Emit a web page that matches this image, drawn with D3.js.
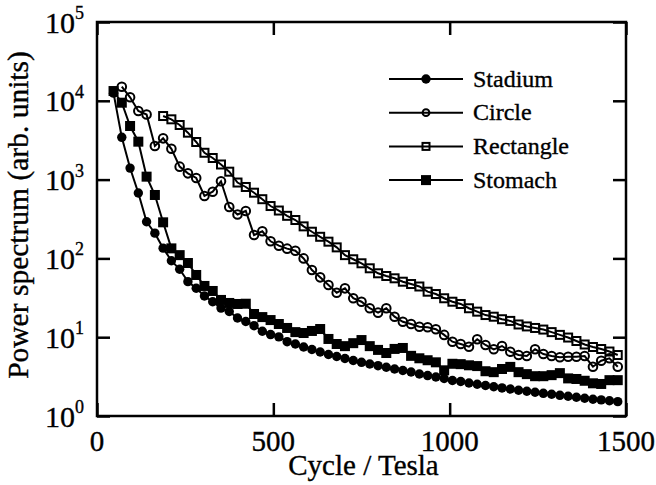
<!DOCTYPE html>
<html>
<head>
<meta charset="utf-8">
<script src="https://cdn.jsdelivr.net/npm/d3@7"></script>
<style>
  html, body { margin: 0; padding: 0; background: #fff; }
  svg { display: block; }
  text { font-family: "Liberation Serif", "Times New Roman", Times, serif; fill: #000; stroke: #000; stroke-width: 0.35px; }
</style>
</head>
<body>
<svg id="chart" width="656" height="485"></svg>
<script>
// Frequency axis (cycles per tesla) of the FFT bins
const cycles = [46.9, 70.3, 93.8, 117.2, 140.6, 164.1, 187.5, 210.9, 234.4, 257.8,
  281.3, 304.7, 328.1, 351.6, 375, 398.4, 421.9, 445.3, 468.8, 492.2,
  515.6, 539.1, 562.5, 585.9, 609.4, 632.8, 656.3, 679.7, 703.1, 726.6,
  750, 773.4, 796.9, 820.3, 843.8, 867.2, 890.6, 914.1, 937.5, 960.9,
  984.4, 1007.8, 1031.3, 1054.7, 1078.1, 1101.6, 1125, 1148.4, 1171.9, 1195.3,
  1218.8, 1242.2, 1265.6, 1289.1, 1312.5, 1335.9, 1359.4, 1382.8, 1406.3, 1429.7,
  1453.1, 1476.6];

const stadium = [12500, 3440, 1400, 676, 292, 209, 135, 93.5, 72.8, 50.7,
  41.8, 33.3, 28.2, 23.4, 21.2, 17.5, 15.8, 14.0, 11.9, 10.8,
  10.1, 8.77, 8.2, 7.5, 6.98, 6.49, 6.03, 5.69, 5.37, 5.06,
  4.80, 4.57, 4.35, 4.15, 3.95, 3.78, 3.62, 3.41, 3.26, 3.13,
  2.99, 2.82, 2.74, 2.62, 2.53, 2.44, 2.35, 2.27, 2.20, 2.12,
  2.06, 2.0, 1.94, 1.89, 1.83, 1.78, 1.73, 1.68, 1.63, 1.60,
  1.56, 1.52];

const circle = [null, 15100, 11070, 7430, 6700, 2670, 3340, 2460, 1460, 1200,
  1048, 620, 702, 951, 449, 361, 400, 198, 221, 165,
  145, 133, 125, 100, 71.3, 57.5, 46, 36.7, 41.7, 31.2,
  28.2, 23.3, 20.5, 23.3, 18.2, 15.7, 14.7, 13.6, 13.4, 12.6,
  10.7, 8.77, 8.2, 7.57, 9.4, 7.96, 7.02, 7.73, 6.55, 5.94,
  5.77, 7.02, 6.12, 5.77, 5.56, 5.66, 5.66, 5.77, 4.22, 5.03,
  5.4, 4.22];

const rectangle = [null, null, null, null, null, null, 6410, 5820, 4930, 3940,
  3000, 2190, 1880, 1555, 1260, 918, 806, 682, 564, 462,
  405, 347, 307, 255, 218, 188, 163, 138, 110, 97.5,
  86.7, 74.9, 64.7, 59.8, 55.9, 50.6, 47.3, 44, 37.8, 35.3,
  31.2, 28.2, 26.4, 23.3, 21.1, 19.1, 18.2, 16.9, 16.1, 14.5,
  13.7, 13.1, 12.5, 11.6, 10.7, 9.9, 8.95, 8.08, 7.51, 7.08,
  6.58, 5.94];

const stomach = [13300, 9460, 4790, 3030, 1090, 638, 287, 134, 110, 87.4,
  61.6, 44.7, 38.6, 29.7, 27.2, 26.4, 26.6, 19.7, 18.0, 16.5,
  14.7, 13.1, 11.6, 11.3, 12.0, 12.7, 9.5, 8.2, 7.7, 8.4,
  9.2, 7.7, 6.9, 6.3, 7.1, 7.3, 5.8, 5.4, 5.1, 4.8,
  3.8, 4.6, 4.55, 4.4, 4.3, 3.7, 3.6, 3.95, 4.2, 3.6,
  3.4, 3.2, 3.2, 3.3, 3.5, 3.0, 2.95, 2.8, 2.6, 2.55,
  2.85, 2.85];

const seriesNames = ["Stadium", "Circle", "Rectangle", "Stomach"];
const xTicks = [0, 500, 1000, 1500];
const yTicks = [1, 10, 100, 1000, 10000, 100000];
const xTitle = "Cycle / Tesla";
const yTitle = "Power spectrum (arb. units)";

const svg = d3.select("#chart");
const plot = { left: 97, right: 626, top: 22, bottom: 416 };

const x = d3.scaleLinear().domain([0, 1500]).range([plot.left, plot.right]);
const y = d3.scaleLog().domain([1, 1e5]).range([plot.bottom, plot.top]);

const series = [
  { name: seriesNames[0], values: stadium, shape: "circle", filled: true },
  { name: seriesNames[1], values: circle, shape: "circle", filled: false },
  { name: seriesNames[2], values: rectangle, shape: "square", filled: false },
  { name: seriesNames[3], values: stomach, shape: "square", filled: true }
];

// marker drawing
function drawMarker(g, shape, filled, cx, cy, legend) {
  if (shape === "circle") {
    const r = filled ? 4.7 : (legend ? 3.4 : 4.3);
    g.append("circle").attr("cx", cx).attr("cy", cy).attr("r", r)
      .attr("fill", filled ? "#000" : "none")
      .attr("stroke", "#000").attr("stroke-width", filled ? 0 : 2);
  } else {
    const s = filled ? 10 : (legend ? 7 : 8);
    g.append("rect").attr("x", cx - s / 2).attr("y", cy - s / 2)
      .attr("width", s).attr("height", s)
      .attr("fill", filled ? "#000" : "none")
      .attr("stroke", "#000").attr("stroke-width", filled ? 0 : 2);
  }
}

const line = d3.line()
  .defined(d => d.v != null)
  .x(d => x(d.c))
  .y(d => y(d.v));

const marks = svg.append("g");
series.forEach(s => {
  const pts = cycles.map((c, i) => ({ c, v: s.values[i] })).filter(d => d.v != null);
  const g = marks.append("g");
  g.append("path").datum(pts).attr("d", line)
    .attr("fill", "none").attr("stroke", "#000").attr("stroke-width", 2);
  pts.forEach(d => drawMarker(g, s.shape, s.filled, x(d.c), y(d.v), false));
});

// frame and inward ticks
const axes = svg.append("g");
const tickLen = 13;
const xAxisB = d3.axisBottom(x).tickValues(xTicks).tickSize(-tickLen).tickFormat("");
const xAxisT = d3.axisTop(x).tickValues(xTicks).tickSize(-tickLen).tickFormat("");
const yAxisL = d3.axisLeft(y).tickValues(yTicks).tickSize(-tickLen).tickFormat("");
const yAxisR = d3.axisRight(y).tickValues(yTicks).tickSize(-tickLen).tickFormat("");
[
  [xAxisB, `translate(0,${plot.bottom})`],
  [xAxisT, `translate(0,${plot.top})`],
  [yAxisL, `translate(${plot.left},0)`],
  [yAxisR, `translate(${plot.right},0)`]
].forEach(([ax, t]) => {
  const g = axes.append("g").attr("transform", t).call(ax);
  g.select(".domain").remove();
  g.selectAll("line").attr("stroke", "#000").attr("stroke-width", 2.5);
});
axes.append("rect")
  .attr("x", plot.left).attr("y", plot.top)
  .attr("width", plot.right - plot.left).attr("height", plot.bottom - plot.top)
  .attr("fill", "none").attr("stroke", "#000").attr("stroke-width", 2.5);

// tick labels
svg.append("g").selectAll("text").data(xTicks).join("text")
  .attr("x", d => x(d)).attr("y", plot.bottom + 35)
  .attr("text-anchor", "middle").attr("font-size", 29)
  .text(d => d);

const yl = svg.append("g").selectAll("text").data(yTicks).join("text")
  .attr("x", 84).attr("y", d => y(d) + 10.5)
  .attr("text-anchor", "end").attr("font-size", 30);
yl.append("tspan").text("10");
yl.append("tspan").attr("dy", -13.5).attr("font-size", 18)
  .text(d => Math.round(Math.log10(d)));

// axis titles
svg.append("text")
  .attr("x", (plot.left + plot.right) / 2 + 2).attr("y", 475)
  .attr("text-anchor", "middle").attr("font-size", 29)
  .text(xTitle);
svg.append("text")
  .attr("transform", "translate(28,215) rotate(-90)")
  .attr("text-anchor", "middle").attr("font-size", 29.5)
  .text(yTitle);

// legend
const legend = svg.append("g");
series.forEach((s, i) => {
  const cy = 79 + i * 33.7;
  legend.append("line").attr("x1", 389).attr("x2", 463).attr("y1", cy).attr("y2", cy)
    .attr("stroke", "#000").attr("stroke-width", 2);
  drawMarker(legend, s.shape, s.filled, 426, cy, true);
  legend.append("text")
    .attr("x", 473).attr("y", cy + 7.5)
    .attr("font-size", 24).text(s.name);
});
</script>
</body>
</html>
